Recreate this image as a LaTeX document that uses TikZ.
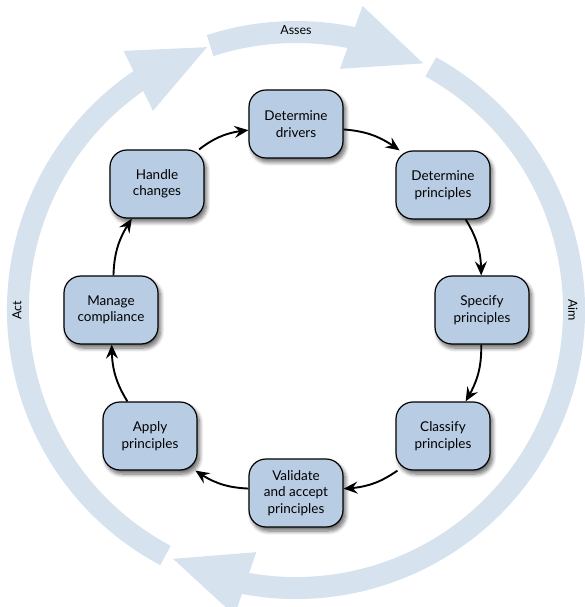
\documentclass[tikz,border=0pt]{standalone}
\usepackage{fontspec}
\setmainfont{Lato}
\usetikzlibrary{arrows.meta,bending,shadows.blur}
\definecolor{ringblue}{HTML}{D6E2EE}
\definecolor{boxblue}{HTML}{B8CCE4}
\tikzset{
  stepbox/.style={draw=black, line width=1.2pt, fill=boxblue, rounded corners=17pt,
    minimum width=94pt, minimum height=68pt, align=center, font=\fontsize{13.5}{16.5}\selectfont,
    blur shadow={shadow xshift=2.5pt, shadow yshift=-4pt, shadow blur steps=8, shadow blur radius=4pt, shadow opacity=60}},
  link/.style={draw=black, line width=1.9pt, -{Stealth[length=14pt,width=12pt,inset=5pt]}, bend left=16},
  ring/.style={draw=ringblue, line width=22pt, -{Triangle[length=80pt,width=60pt]}},
  ringlabel/.style={font=\fontsize{12.5}{14}\selectfont}
}
\begin{document}
\begin{tikzpicture}[x=1pt,y=1pt]
\useasboundingbox (-296,-297) rectangle (288,310);
% outer ring
\draw[ring] (108:278) arc[start angle=108, end angle=62, radius=278];
\draw[ring] (61:278) arc[start angle=61, end angle=-117, radius=278];
\draw[ring] (242:278) arc[start angle=242, end angle=108, radius=278];
\node[ringlabel] (asses) at (0,280) {Asses};
\node[ringlabel, rotate=-90] (aim) at (277,0) {Aim};
\node[ringlabel, rotate=90] (act) at (-279,0) {Act};
% steps
\node[stepbox] (drv) at (0,186) {Determine\\drivers};
\node[stepbox] (dpr) at (147,125) {Determine\\principles};
\node[stepbox] (spc) at (186,0) {Specify\\principles};
\node[stepbox] (cls) at (147,-126) {Classify\\principles};
\node[stepbox] (val) at (0,-183) {Validate\\and accept\\principles};
\node[stepbox] (app) at (-146,-126) {Apply\\principles};
\node[stepbox] (man) at (-185,0) {Manage\\compliance};
\node[stepbox] (han) at (-139,126) {Handle\\changes};
% links
\draw[link] (drv) to (dpr);
\draw[link] (dpr) to (spc);
\draw[link] (spc) to (cls);
\draw[link] (cls) to (val);
\draw[link] (val) to (app);
\draw[link] (app) to (man);
\draw[link] (man) to (han);
\draw[link] (han) to (drv);
\end{tikzpicture}
\end{document}
